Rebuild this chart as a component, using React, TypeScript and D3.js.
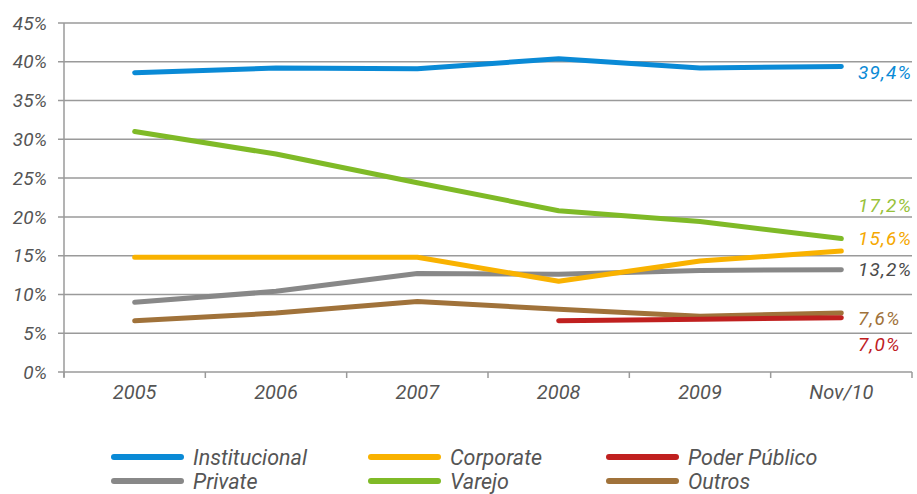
import React from "react";
import * as d3 from "d3";

const categories = ["2005", "2006", "2007", "2008", "2009", "Nov/10"];
const yTicks = [0, 5, 10, 15, 20, 25, 30, 35, 40, 45];

const institucional = [38.6, 39.2, 39.1, 40.4, 39.2, 39.4];
const varejo = [31.0, 28.1, 24.4, 20.8, 19.4, 17.2];
const corporate = [14.8, 14.8, 14.8, 11.7, 14.3, 15.6];
const privateS = [9.0, 10.4, 12.7, 12.6, 13.1, 13.2];
const outros = [6.6, 7.6, 9.1, 8.1, 7.2, 7.6];
const poderPublico = [null, null, null, 6.6, 6.8, 7.0];

const endLabels = ["39,4%", "17,2%", "15,6%", "13,2%", "7,6%", "7,0%"];

interface Series {
  name: string;
  values: (number | null)[];
  color: string;
  label: string;
  labelColor: string;
  labelDy: number;
}

const series: Series[] = [
  { name: "Outros", values: outros, color: "#a0723a", label: endLabels[4], labelColor: "#a0723a", labelDy: 5 },
  { name: "Private", values: privateS, color: "#888888", label: endLabels[3], labelColor: "#4a4a4a", labelDy: 0 },
  { name: "Corporate", values: corporate, color: "#f9b200", label: endLabels[2], labelColor: "#f5a800", labelDy: -13 },
  { name: "Varejo", values: varejo, color: "#7fba27", label: endLabels[1], labelColor: "#98c23a", labelDy: -33 },
  { name: "Poder Público", values: poderPublico, color: "#c0201f", label: endLabels[5], labelColor: "#c0201f", labelDy: 27 },
  { name: "Institucional", values: institucional, color: "#0a8ad6", label: endLabels[0], labelColor: "#0a8ad6", labelDy: 6 },
];

const legendOrder = ["Institucional", "Corporate", "Poder Público", "Private", "Varejo", "Outros"];

const W = 917;
const H = 494;
const left = 64;
const right = 912;
const top = 23;
const bottom = 372;
const font = "Roboto, 'Open Sans', sans-serif";

export default function App() {
  const x = d3.scaleBand<string>().domain(categories).range([left, right]);
  const y = d3.scaleLinear().domain([0, 45]).range([bottom, top]);
  const line = d3
    .line<number | null>()
    .defined((d) => d != null)
    .x((_, i) => (x(categories[i]) ?? 0) + x.bandwidth() / 2)
    .y((d) => y(d as number));

  const gridColor = "#9a9a9a";
  const textColor = "#555555";

  return (
    <svg width={W} height={H} style={{ position: "absolute", left: 0, top: 0, background: "#fff" }}>
      {/* grid */}
      {yTicks.map((t) => (
        <g key={t}>
          <line x1={left - 6} x2={right} y1={y(t)} y2={y(t)} stroke={gridColor} strokeWidth={1.5} />
          <text
            x={left - 17}
            y={y(t)}
            dy="0.35em"
            textAnchor="end"
            fontFamily={font}
            fontStyle="italic"
            fontSize={19}
            fill={textColor}
          >
            {t}%
          </text>
        </g>
      ))}
      <line x1={left} x2={left} y1={top} y2={bottom + 5} stroke={gridColor} strokeWidth={1.5} />
      {/* x axis ticks */}
      {[...categories.map((c) => x(c) ?? 0), right].map((px, i) => (
        <line key={i} x1={px} x2={px} y1={bottom} y2={bottom + 6} stroke={gridColor} strokeWidth={1.5} />
      ))}
      {categories.map((c) => (
        <text
          key={c}
          x={(x(c) ?? 0) + x.bandwidth() / 2}
          y={bottom + 20}
          dy="0.35em"
          textAnchor="middle"
          fontFamily={font}
          fontStyle="italic"
          fontSize={20}
          fill={textColor}
        >
          {c}
        </text>
      ))}
      {/* lines */}
      {series.map((s) => (
        <path
          key={s.name}
          d={line(s.values) ?? ""}
          fill="none"
          stroke={s.color}
          strokeWidth={5}
          strokeLinecap="round"
          strokeLinejoin="round"
        />
      ))}
      {/* end labels */}
      {series.map((s) => {
        const last = s.values[s.values.length - 1] as number;
        return (
          <text
            key={s.name}
            x={858}
            y={y(last) + s.labelDy}
            dy="0.35em"
            fontFamily={font}
            fontStyle="italic"
            fontSize={19}
            letterSpacing={1.2}
            fill={s.labelColor}
          >
            {s.label}
          </text>
        );
      })}
      {/* legend */}
      {legendOrder.map((name, i) => {
        const s = series.find((d) => d.name === name)!;
        const col = i % 3;
        const row = Math.floor(i / 3);
        const lx = [114, 371, 609][col];
        const ly = 457 + row * 24;
        return (
          <g key={name}>
            <line x1={lx} x2={lx + 67} y1={ly} y2={ly} stroke={s.color} strokeWidth={6} strokeLinecap="round" />
            <text
              x={lx + 79}
              y={ly}
              dy="0.35em"
              fontFamily={font}
              fontStyle="italic"
              fontSize={21.5}
              fill={textColor}
            >
              {name}
            </text>
          </g>
        );
      })}
    </svg>
  );
}
